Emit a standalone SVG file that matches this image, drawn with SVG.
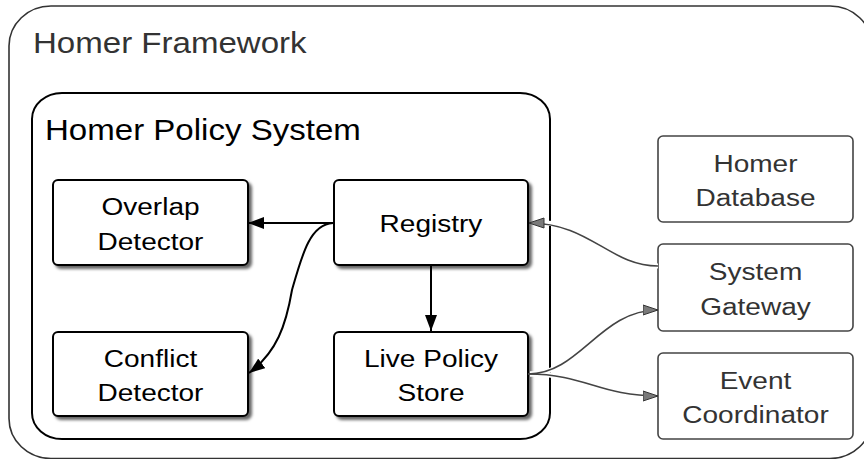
<svg xmlns="http://www.w3.org/2000/svg" width="864" height="459" viewBox="0 0 864 459">
  <defs>
    <filter id="shadow" x="-10%" y="-10%" width="130%" height="140%">
      <feDropShadow dx="3" dy="3" stdDeviation="1.8" flood-color="#000" flood-opacity="0.6"/>
    </filter>
    <marker id="arrow-black" viewBox="0 0 16 12" refX="16" refY="6" markerWidth="16" markerHeight="12" markerUnits="userSpaceOnUse" orient="auto">
      <path d="M0,0 L16,6 L0,12 z" fill="#000"/>
    </marker>
    <marker id="arrow-gray" viewBox="0 0 16 12" refX="15.5" refY="6" markerWidth="16" markerHeight="12" markerUnits="userSpaceOnUse" orient="auto">
      <path d="M0.5,1 L15.5,6 L0.5,11 z" fill="#7a7a7a" stroke="#333" stroke-width="1"/>
    </marker>
    <style>
      .frame { fill: #fff; stroke: #333; stroke-width: 1.6; }
      .container { fill: #fff; stroke: #000; stroke-width: 2; }
      .box { fill: #fff; stroke: #000; stroke-width: 2; filter: url(#shadow); }
      .ext { fill: #fff; stroke: #444; stroke-width: 1.6; }
      .title { font-family: "Liberation Sans", Arial, sans-serif; font-size: 29px; }
      .lbl { font-family: "Liberation Sans", Arial, sans-serif; font-size: 24.6px; text-anchor: middle; fill: #000; }
      .ext-lbl { fill: #333; }
      .edge { fill: none; stroke: #000; stroke-width: 2; }
      .edge-ext { fill: none; stroke: #444; stroke-width: 1.6; }
      .halo { fill: none; stroke: #fff; stroke-width: 5; }
    </style>
  </defs>

  <!-- outer framework boundary -->
  <g id="homer-framework">
    <rect class="frame" x="9" y="6" width="863" height="452.5" rx="42" ry="40"/>
    <text class="title" fill="#333" transform="translate(33,53) scale(1.14,1)">Homer Framework</text>
  </g>

  <!-- policy system container -->
  <g id="homer-policy-system">
    <rect class="container" x="32" y="93" width="518" height="346" rx="30" ry="26"/>
    <text class="title" fill="#000" transform="translate(45,140) scale(1.14,1)">Homer Policy System</text>
  </g>

  <g id="overlap-detector">
    <rect class="box" x="53" y="180" width="195" height="85" rx="5"/>
    <text class="lbl" transform="translate(150.5,0) scale(1.14,1)"><tspan x="0" y="215.5">Overlap</tspan><tspan x="0" y="250">Detector</tspan></text>
  </g>

  <g id="registry">
    <rect class="box" x="334" y="180" width="194" height="85" rx="5"/>
    <text class="lbl" transform="translate(431,0) scale(1.14,1)"><tspan x="0" y="232">Registry</tspan></text>
  </g>

  <g id="conflict-detector">
    <rect class="box" x="53" y="332" width="195" height="84" rx="5"/>
    <text class="lbl" transform="translate(150.5,0) scale(1.14,1)"><tspan x="0" y="367">Conflict</tspan><tspan x="0" y="401.5">Detector</tspan></text>
  </g>

  <g id="live-policy-store">
    <rect class="box" x="334" y="332" width="194" height="84" rx="5"/>
    <text class="lbl" transform="translate(431,0) scale(1.14,1)"><tspan x="0" y="367">Live Policy</tspan><tspan x="0" y="401.5">Store</tspan></text>
  </g>

  <g id="homer-database">
    <rect class="ext" x="658" y="136" width="195" height="86" rx="5"/>
    <text class="lbl ext-lbl" transform="translate(755.5,0) scale(1.14,1)"><tspan x="0" y="172">Homer</tspan><tspan x="0" y="206.5">Database</tspan></text>
  </g>

  <g id="system-gateway">
    <rect class="ext" x="658" y="244" width="195" height="87" rx="5"/>
    <text class="lbl ext-lbl" transform="translate(755.5,0) scale(1.14,1)"><tspan x="0" y="280.5">System</tspan><tspan x="0" y="315">Gateway</tspan></text>
  </g>

  <g id="event-coordinator">
    <rect class="ext" x="658" y="353" width="195" height="86" rx="5"/>
    <text class="lbl ext-lbl" transform="translate(755.5,0) scale(1.14,1)"><tspan x="0" y="389">Event</tspan><tspan x="0" y="423.5">Coordinator</tspan></text>
  </g>

  <!-- connectors -->
  <g id="connectors">
    <path class="edge" d="M334,223 L248,223" marker-end="url(#arrow-black)"/>
    <path class="edge" d="M333,223 C310,224 302,255 292,290 C286,325 277,352 249,373" marker-end="url(#arrow-black)"/>
    <path class="edge" d="M431,265 L431,331" marker-end="url(#arrow-black)"/>

    <path class="halo" d="M658,266 C610,266 590,223 545,223"/>
    <path class="halo" d="M530,374 C580,374 600,310 640,310"/>
    <path class="halo" d="M530,374 C585,374 600,396 640,396"/>
    <path class="edge-ext" d="M658,266 C610,266 590,223 529,223" marker-end="url(#arrow-gray)"/>
    <path class="edge-ext" d="M528,374 C580,374 600,310 658,310" marker-end="url(#arrow-gray)"/>
    <path class="edge-ext" d="M528,374 C585,374 600,396 658,396" marker-end="url(#arrow-gray)"/>
  </g>
</svg>
